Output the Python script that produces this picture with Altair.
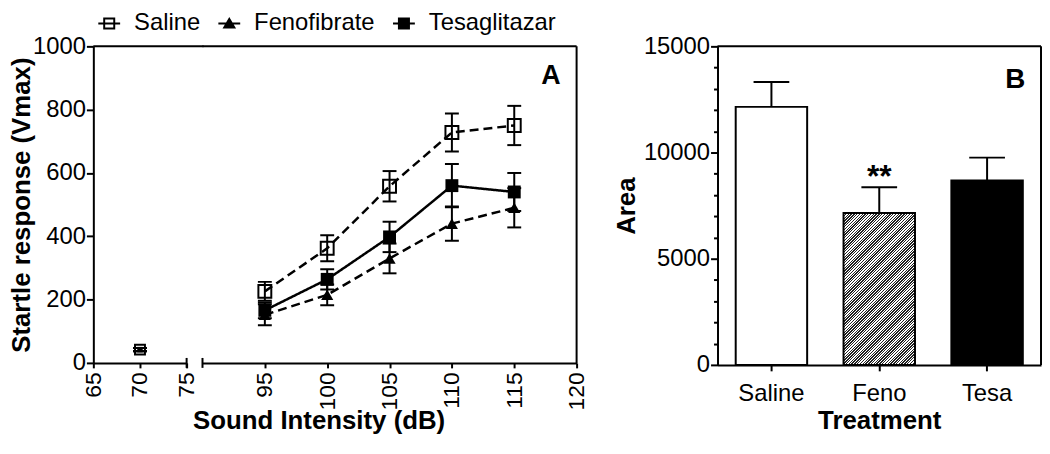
import altair as alt
import pandas as pd

# ---------------- Panel A data ----------------
intensity = [70, 95, 100, 105, 110, 115]
groups = ["Saline", "Fenofibrate", "Tesaglitazar"]
saline_mean = [42, 226, 362, 558, 728, 750]
saline_sem = [5, 30, 41, 48, 60, 62]
feno_mean = [42, 152, 215, 330, 440, 490]
feno_sem = [5, 33, 33, 47, 54, 62]
tesa_mean = [42, 166, 264, 398, 560, 540]
tesa_sem = [5, 25, 32, 48, 68, 60]

# ---------------- Panel B data ----------------
treatments = ["Saline", "Feno", "Tesa"]
area_mean = [12150, 7150, 8680]
area_sem = [1170, 1210, 1080]
significance = ["", "**", ""]

FONT = "Liberation Sans"
LABEL_FS = 24
TITLE_FS = 26
H_A, W_A1, W_A2 = 319, 94, 377
H_B, W_B = 321, 326
SPACING = 16

rows = []
for g, m, s in [("Fenofibrate", feno_mean, feno_sem),
                ("Tesaglitazar", tesa_mean, tesa_sem),
                ("Saline", saline_mean, saline_sem)]:
    for xi, mi, si in zip(intensity, m, s):
        rows.append({"group": g, "x": xi, "mean": mi, "sem": si})
df_a = pd.DataFrame(rows)
one = pd.DataFrame({"k": [0]})

base_a = alt.Chart(df_a).transform_calculate(
    lo="datum.mean - datum.sem", hi="datum.mean + datum.sem")

y_axis_a = alt.Axis(values=[0, 200, 400, 600, 800, 1000], format="d", tickSize=7, labelPadding=1,
                    title="Startle response (Vmax)", titleX=-64, titleY=H_A / 2,
                    titleAngle=270, titleAlign="center", titleBaseline="alphabetic",
                    labelFlush=False)
y_scale_a = alt.Scale(domain=[0, 1000], nice=False, zero=True)


def ya1(f):
    return alt.Y(f"{f}:Q", scale=y_scale_a, axis=y_axis_a)


def ya2(f):
    return alt.Y(f"{f}:Q", scale=y_scale_a, axis=None)


x_a1 = alt.X("x:Q", scale=alt.Scale(domain=[65, 75], nice=False, zero=False),
             axis=alt.Axis(values=[65, 70, 75], labelAngle=270, tickSize=5, labelPadding=4,
                           labelFontSize=23, title=None, labelFlush=False, labelOverlap=False))
x_a2 = alt.X("x:Q", scale=alt.Scale(domain=[90, 120], nice=False, zero=False),
             axis=alt.Axis(values=[95, 100, 105, 110, 115, 120], labelAngle=270, tickSize=5,
                           labelPadding=4, labelFontSize=23, title="Sound Intensity (dB)",
                           titleX=117, titleY=66, titleAlign="center", titleBaseline="alphabetic",
                           labelFlush=False, labelOverlap=False))

point_style = {
    "Fenofibrate": dict(shape="triangle-up", filled=True, size=150, size70=16),
    "Tesaglitazar": dict(shape="square", filled=True, size=169, size70=30),
    "Saline": dict(shape="square", filled=False, size=169, size70=100),
}


def error_layers(b, xenc, yfn):
    rule = b.mark_rule(color="black", strokeWidth=2).encode(x=xenc, y=yfn("lo"), y2="hi:Q")
    lo = b.mark_tick(color="black", orient="horizontal", size=14, thickness=2, opacity=1).encode(
        x=xenc, y=yfn("lo"))
    hi = b.mark_tick(color="black", orient="horizontal", size=14, thickness=2, opacity=1).encode(
        x=xenc, y=yfn("hi"))
    return [rule, lo, hi]


def point_layers(b, xenc, yfn):
    out = []
    for g in ["Fenofibrate", "Tesaglitazar", "Saline"]:
        st = point_style[g]
        out.append(
            b.transform_filter(alt.datum.group == g).mark_point(
                shape=st["shape"], filled=st["filled"], color="black", strokeWidth=2, opacity=1
            ).encode(x=xenc, y=yfn("mean"),
                     size=alt.condition("datum.x == 70", alt.value(st["size70"]), alt.value(st["size"])))
        )
    return out


# ----- A1: 65-75 segment -----
b1 = base_a.transform_filter("datum.x <= 75")
a1_layers = error_layers(b1, x_a1, ya1) + point_layers(b1, x_a1, ya1)
a1_layers.append(alt.Chart(one).mark_rule(color="black", strokeWidth=2).encode(
    x=alt.value(0), x2=alt.value(W_A1 + SPACING + 1), y=alt.value(0)))
a1_layers.append(alt.Chart(one).mark_rule(color="black", strokeWidth=2).encode(
    x=alt.value(W_A1), y=alt.value(H_A - 5), y2=alt.value(H_A + 5)))
A1 = alt.layer(*a1_layers).properties(width=W_A1, height=H_A)

# ----- A2: 90-120 segment -----
b2 = base_a.transform_filter("datum.x >= 90")
line_layers = []
for g, dash in [("Fenofibrate", [9, 5]), ("Tesaglitazar", [1, 0]), ("Saline", [9, 5])]:
    line_layers.append(b2.transform_filter(alt.datum.group == g).mark_line(
        color="black", strokeWidth=2.5, strokeDash=dash).encode(x=x_a2, y=ya2("mean")))

# legend glyphs: filled outlines (line through symbol), unit box -1..1
bar_path = "M-1,-0.09H1V0.09H-1Z"
sym_open_sq = "M-0.55,-0.55H0.55V0.55H-0.55Z M-0.37,-0.37V0.37H0.37V-0.37Z " + bar_path
sym_tri = "M0,-0.6L0.62,0.45H-0.62Z " + bar_path
sym_sq = "M-0.55,-0.55H0.55V0.55H-0.55Z " + bar_path
leg = alt.Legend(orient="none", legendX=4, legendY=-35, direction="horizontal", title=None,
                 symbolSize=484, labelFontSize=LABEL_FS, labelOffset=13, columnPadding=15)
legend_layer = alt.Chart(df_a).transform_filter("false").mark_point(
    filled=True, opacity=1, color="black", strokeWidth=0).encode(
    x=x_a2, y=ya2("mean"),
    shape=alt.Shape("group:N", scale=alt.Scale(domain=groups, range=[sym_open_sq, sym_tri, sym_sq]),
                    legend=leg),
)

a2_layers = [legend_layer] + line_layers + error_layers(b2, x_a2, ya2) + point_layers(b2, x_a2, ya2)
a2_layers.append(alt.Chart(one).mark_rule(color="black", strokeWidth=2).encode(
    x=alt.value(0), x2=alt.value(W_A2), y=alt.value(0)))
a2_layers.append(alt.Chart(one).mark_rule(color="black", strokeWidth=2).encode(
    x=alt.value(W_A2), y=alt.value(0), y2=alt.value(H_A)))
a2_layers.append(alt.Chart(one).mark_rule(color="black", strokeWidth=2).encode(
    x=alt.value(0), y=alt.value(H_A - 5), y2=alt.value(H_A + 5)))
a2_layers.append(alt.Chart(pd.DataFrame({"t": ["A"]})).mark_text(
    font=FONT, fontSize=27, fontWeight="bold", align="center", baseline="alphabetic", color="black"
).encode(text="t:N", x=alt.value(351), y=alt.value(38)))
A2 = alt.layer(*a2_layers).properties(width=W_A2, height=H_A)

spacer = alt.Chart(one).mark_point(opacity=0).encode(x=alt.value(0), y=alt.value(0)).properties(
    width=110, height=H_A)

# ----- B -----
df_b = pd.DataFrame({"treatment": treatments, "mean": area_mean, "sem": area_sem, "sig": significance})
base_b = alt.Chart(df_b).transform_calculate(hi="datum.mean + datum.sem")
xb = alt.X("treatment:N", sort=treatments,
           scale=alt.Scale(domain=treatments, paddingInner=0, paddingOuter=0),
           axis=alt.Axis(labelAngle=0, tickSize=6, labelPadding=11, title="Treatment",
                         titleX=W_B / 2, titleY=64, titleAlign="center", titleBaseline="alphabetic"))
y_scale_b = alt.Scale(domain=[0, 15000], nice=False)
yb_main = alt.Y("mean:Q", scale=y_scale_b,
                axis=alt.Axis(values=[0, 5000, 10000, 15000], format="d", tickSize=7, labelPadding=1,
                              title="Area", titleX=-84, titleY=H_B / 2, titleAngle=270,
                              titleAlign="center", titleBaseline="alphabetic", labelFlush=False,
                              orient="left"))
minor_vals = [v for v in range(0, 15001, 1000) if v % 5000 != 0]


def yb(f):
    return alt.Y(f"{f}:Q", scale=y_scale_b, axis=None)


bar_w = 72
bar_h = area_mean[1] / 15000 * H_B
period = 2.8
pt = period / (bar_w + bar_h)
stops = []
i = 0
while i * pt < 1:
    a = i * pt
    b = min(a + pt * 0.5, 1)
    c = min(a + pt, 1)
    stops += [{"offset": a, "color": "#222222"}, {"offset": b, "color": "#222222"},
              {"offset": b, "color": "white"}, {"offset": c, "color": "white"}]
    i += 1
r = bar_w / bar_h
s = (1 + r) / (1 + r * r)
hatch = {"gradient": "linear", "x1": 0, "y1": 0, "x2": r * s, "y2": s, "stops": stops}

band = {"band": bar_w / (W_B / 3)}
bar_white = base_b.transform_filter(alt.datum.treatment == "Saline").mark_bar(
    fill="white", stroke="black", strokeWidth=2, width=band).encode(x=xb, y=yb_main)
bar_hatch = base_b.transform_filter(alt.datum.treatment == "Feno").mark_bar(
    fill=hatch, stroke="black", strokeWidth=2, width=band).encode(x=xb, y=yb("mean"))
bar_black = base_b.transform_filter(alt.datum.treatment == "Tesa").mark_bar(
    fill="black", stroke="black", strokeWidth=2, width=band).encode(x=xb, y=yb("mean"))
err_b = base_b.mark_rule(color="black", strokeWidth=2).encode(x=xb, y=yb("mean"), y2="hi:Q")
cap_b = base_b.mark_tick(color="black", orient="horizontal", size=36, thickness=2, opacity=1).encode(
    x=xb, y=yb("hi"))
sig_b = base_b.transform_filter("datum.sig != ''").mark_text(
    font=FONT, fontSize=32, fontWeight="bold", baseline="alphabetic", align="center", color="black", dy=0
).encode(x=xb, y=yb("hi"), text="sig:N")
minor_b = base_b.mark_point(opacity=0).encode(
    y=alt.Y("mean:Q", scale=y_scale_b,
            axis=alt.Axis(values=minor_vals, tickSize=4, labels=False, domain=False, title=None,
                          orient="left")))
top_b = alt.Chart(one).mark_rule(color="black", strokeWidth=2).encode(
    x=alt.value(0), x2=alt.value(W_B), y=alt.value(0))
right_b = alt.Chart(one).mark_rule(color="black", strokeWidth=2).encode(
    x=alt.value(W_B), y=alt.value(0), y2=alt.value(H_B))
label_b = alt.Chart(pd.DataFrame({"t": ["B"]})).mark_text(
    font=FONT, fontSize=28, fontWeight="bold", align="center", baseline="alphabetic", color="black"
).encode(text="t:N", x=alt.value(300), y=alt.value(42))

B = alt.layer(bar_white, bar_hatch, bar_black, err_b, cap_b, sig_b, minor_b, top_b, right_b, label_b
              ).resolve_axis(y="independent").properties(width=W_B, height=H_B)

chart = alt.hconcat(A1, A2, spacer, B, spacing=SPACING, bounds="flush").properties(
    padding={"left": 0, "top": 2, "right": 0, "bottom": 0}
).configure_view(stroke=None).configure_axis(
    labelFont=FONT, labelFontSize=LABEL_FS, labelColor="black",
    titleFont=FONT, titleFontSize=TITLE_FS, titleFontWeight="bold", titleColor="black",
    domainColor="black", domainWidth=2, tickColor="black", tickWidth=2, grid=False
).configure_legend(labelFont=FONT, labelFontSize=LABEL_FS, labelColor="black")

chart.save("out.html", embed_options={"renderer": "svg", "actions": False})
